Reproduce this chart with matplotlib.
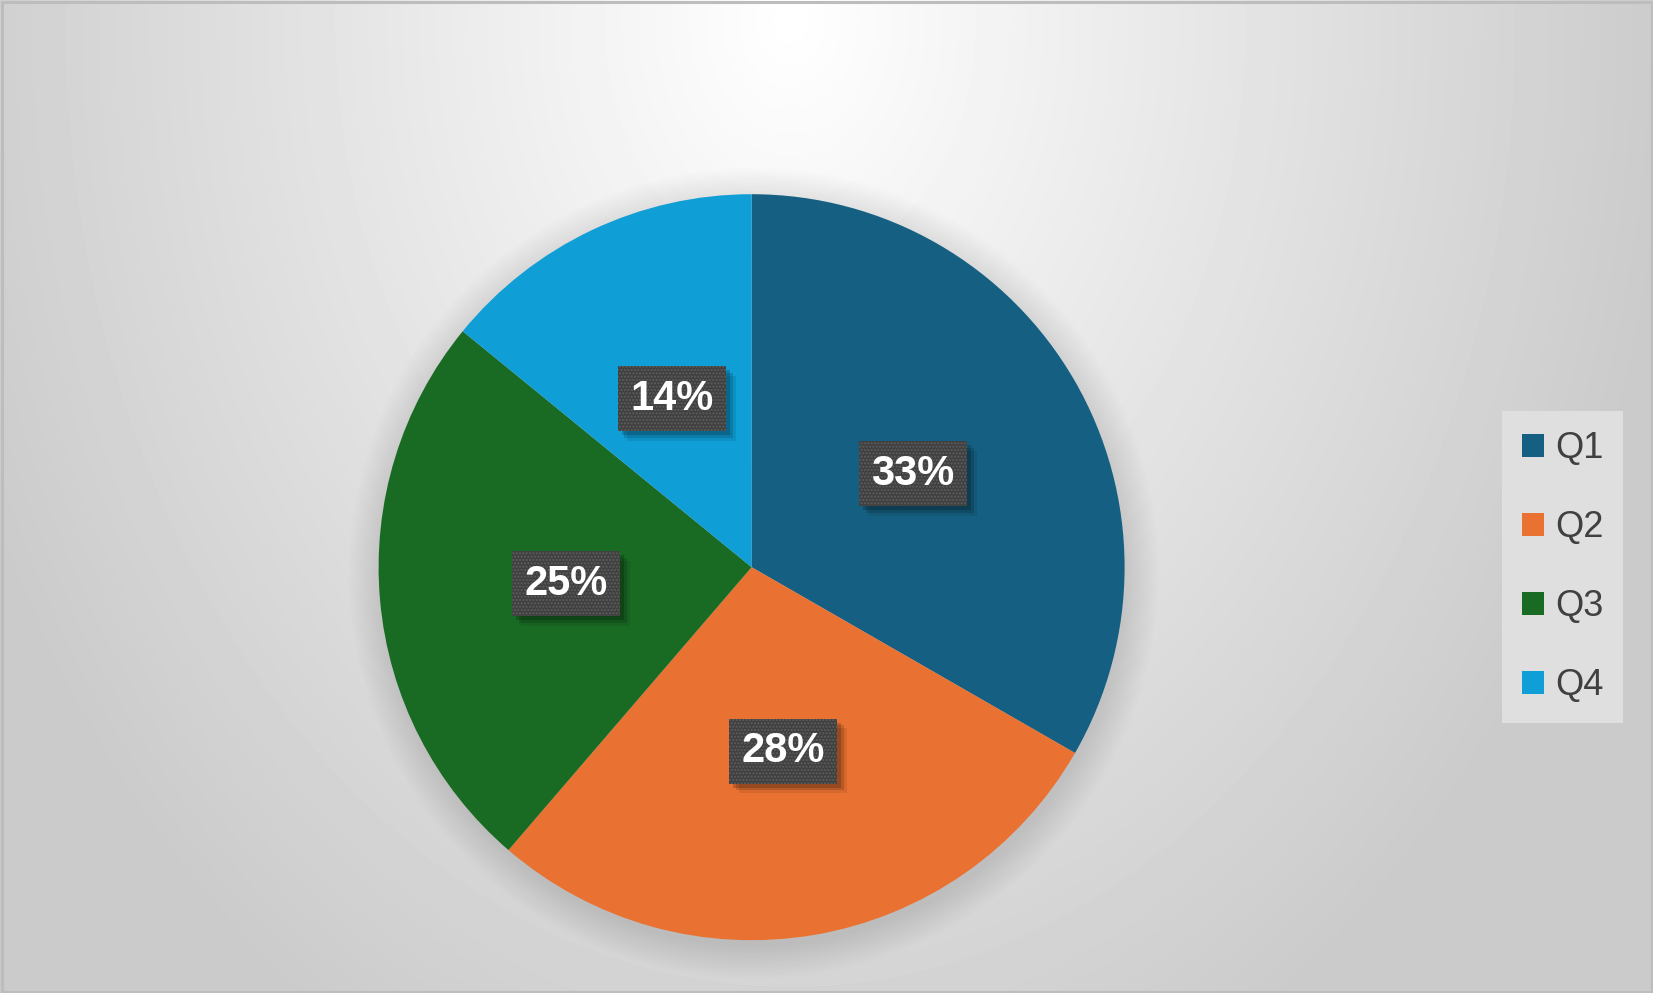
import numpy as np
import matplotlib
matplotlib.use("Agg")
import matplotlib.pyplot as plt
from matplotlib.patches import Circle, Rectangle
import matplotlib.patheffects as pe

plt.rcParams['font.family'] = ['Liberation Sans', 'DejaVu Sans']

quarters = ['Q1', 'Q2', 'Q3', 'Q4']
shares = [33.3, 28.0, 24.6, 14.1]
colors = ['#156082', '#E97132', '#196B24', '#0F9ED5']

W, H = 1653, 993
fig = plt.figure(figsize=(W / 100, H / 100), dpi=100)
ax = fig.add_axes([0, 0, 1, 1])

# radial background gradient, white at top centre
yy, xx = np.mgrid[0:H, 0:W]
d = np.sqrt((xx - 790.0) ** 2 + ((yy - 20.0) * 0.75) ** 2)
f = np.clip(d / 880.0, 0, 1)
grad = 255 - 52 * f
ax.imshow(grad, cmap='gray', vmin=0, vmax=255, extent=(0, W, 0, H),
          origin='upper', aspect='auto', zorder=0, interpolation='bilinear')

cx, cy, R = 751.6, H - 567.2, 373.0

# soft pie shadow
for i in range(26):
    ax.add_patch(Circle((cx + 2, cy - 6), R + 1.3 * i, facecolor='black',
                        edgecolor='none', alpha=0.0055, zorder=1))

wedges, texts, autotexts = ax.pie(
    shares, colors=colors, startangle=90, counterclock=False,
    center=(cx, cy), radius=R, autopct='%1.0f%%', pctdistance=0.5,
    wedgeprops=dict(linewidth=0, zorder=2),
    textprops=dict(color='white', fontsize=30, fontweight='bold'))

# blurred drop shadow behind each label box (no hatch on the shadow)
shadow = [pe.SimplePatchShadow(offset=(o, -o), shadow_rgbFace='black', alpha=a,
                               hatch=None, linewidth=0)
          for o, a in [(7, 0.08), (5, 0.14), (3, 0.18)]]

for t in autotexts:
    t.set_zorder(5)
    t.set_bbox(dict(boxstyle='square,pad=0.3', facecolor='#404040',
                    edgecolor='#5E5E5E', linewidth=0, hatch='.....'))
    t.get_bbox_patch().set_path_effects(shadow + [pe.Normal()])

leg = ax.legend(wedges, quarters, loc='center left',
                bbox_to_anchor=(1502 / W, 1 - 567 / H), bbox_transform=fig.transFigure,
                fontsize=26, frameon=True, fancybox=False, framealpha=1,
                facecolor='#DFDFDF', edgecolor='none',
                handlelength=0.62, handleheight=0.62, handletextpad=0.3,
                labelspacing=1.22, borderpad=0.55, borderaxespad=0)
for txt in leg.get_texts():
    txt.set_color('#404040')

ax.add_patch(Rectangle((1.5, 1.5), W - 3, H - 3, facecolor='none',
                       edgecolor='#BDBDBD', linewidth=2.2, zorder=10))

ax.set_xlim(0, W)
ax.set_ylim(0, H)
ax.set_aspect('auto')
ax.axis('off')

fig.savefig('out.png', dpi=100)
